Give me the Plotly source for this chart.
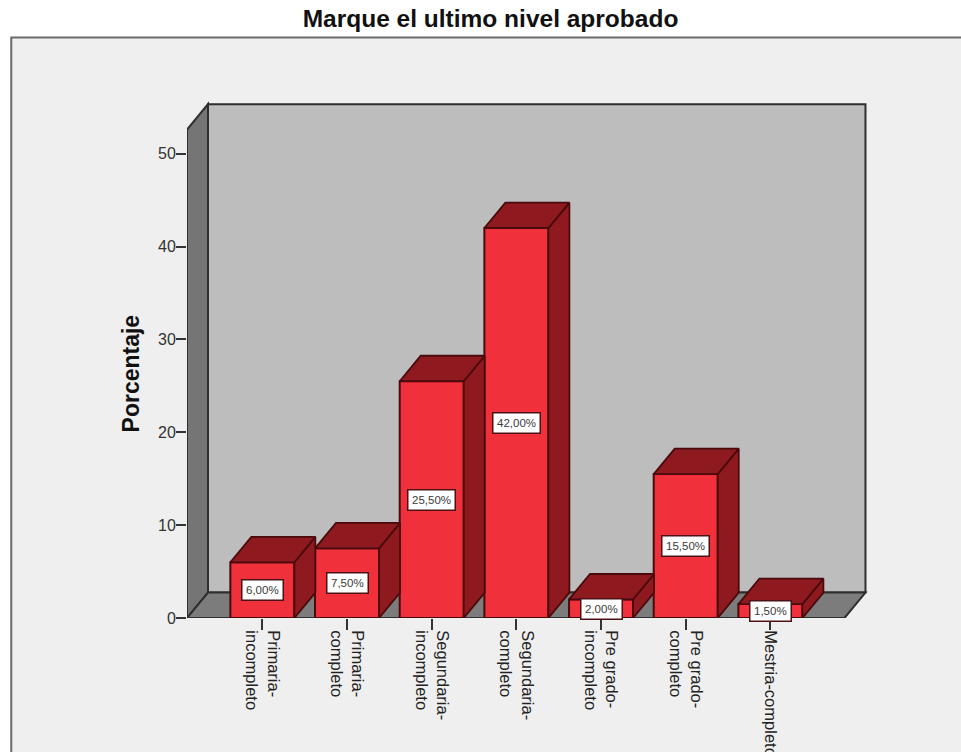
import plotly.graph_objects as go

categories = ["Primaria-<br>incompleto", "Primaria-<br>completo", "Segundaria-<br>incompleto",
              "Segundaria-<br>completo", "Pre grado-<br>incompleto", "Pre grado-<br>completo",
              "Mestria-completo"]
values = [6.0, 7.5, 25.5, 42.0, 2.0, 15.5, 1.5]
y_ticks = [0, 10, 20, 30, 40, 50]
title_text = "Marque el ultimo nivel aprobado"
y_title = "Porcentaje"

W, H = 961, 752
L, R, T, B = 187.3, 88.5, 98, 133.5
XMIN, XMAX, YMIN, YMAX = -0.89, 7.2, 0, 56
DX, DY = 0.248, 2.74       # oblique depth of the 3D box, in axis units
BW = 0.756
WALL_TOP = 52.6
FLOOR_R = 6.875
OUT = "#4a0a0c"
FRONT, TOP, SIDE = "#f0303a", "#8e1a20", "#8e1a20"

def px(xp): return (xp - L) / (W - L - R)
def py(yp): return 1 - (yp - T) / (H - T - B)

fig = go.Figure()
xs = list(range(len(values)))

fig.add_trace(go.Bar(x=xs, y=values, width=BW, marker=dict(color=FRONT, line=dict(color=OUT, width=2)),
                     showlegend=False, hoverinfo="x+y"))
for i, v in zip(xs, values):
    x0, x1 = i - BW / 2, i + BW / 2
    fig.add_trace(go.Scatter(x=[x1, x1 + DX, x1 + DX, x1, x1], y=[0, DY, v + DY, v, 0], mode="lines",
                             fill="toself", fillcolor=SIDE, line=dict(color=OUT, width=1.8),
                             showlegend=False, hoverinfo="skip"))
    fig.add_trace(go.Scatter(x=[x0, x0 + DX, x1 + DX, x1, x0], y=[v, v + DY, v + DY, v, v], mode="lines",
                             fill="toself", fillcolor=TOP, line=dict(color=OUT, width=1.8),
                             showlegend=False, hoverinfo="skip"))
    fig.add_annotation(x=i, y=v / 2, text=f"{v:.2f}".replace(".", ",") + "%", showarrow=False,
                       font=dict(family="Liberation Sans", size=11.5, color="#3a3a3a"),
                       bgcolor="white", bordercolor="#4a1214", borderwidth=1.5, borderpad=3.5)

wall = dict(color="#2e2e2e", width=2)
shapes = [
    # frame of the chart area, running off the right and bottom of the window
    dict(type="rect", xref="paper", yref="paper", x0=px(11.5), x1=px(1100), y0=py(900), y1=py(37.5),
         fillcolor="#efefef", line=dict(color="#6a6a6a", width=2), layer="below"),
    # back wall
    dict(type="path", xref="x", yref="y", layer="below", fillcolor="#bdbdbd", line=wall,
         path=f"M{XMIN + DX},{DY} L{XMIN + DX},{WALL_TOP + DY} L{FLOOR_R + DX},{WALL_TOP + DY} L{FLOOR_R + DX},{DY} Z"),
    # left wall
    dict(type="path", xref="x", yref="y", layer="below", fillcolor="#757575", line=wall,
         path=f"M{XMIN},0 L{XMIN},{WALL_TOP} L{XMIN + DX},{WALL_TOP + DY} L{XMIN + DX},{DY} Z"),
    # floor
    dict(type="path", xref="x", yref="y", layer="below", fillcolor="#7c7c7c", line=wall,
         path=f"M{XMIN},0 L{XMIN + DX},{DY} L{FLOOR_R + DX},{DY} L{FLOOR_R},0 Z"),
]

fig.add_annotation(xref="paper", yref="paper", x=px(131), y=py(374), xanchor="center", yanchor="middle",
                   text=f"<b>{y_title}</b>", textangle=-90,
                   showarrow=False, font=dict(family="Liberation Sans", size=23, color="#111111"))

fig.update_layout(
    width=W, height=H, margin=dict(l=L, r=R, t=T, b=B), autosize=False,
    paper_bgcolor="white", plot_bgcolor="rgba(0,0,0,0)", shapes=shapes, showlegend=False,
    title=dict(text=f"<b>{title_text}</b>", xref="container", yref="container", x=490.5 / W, y=1 - 18 / H,
               xanchor="center", yanchor="middle", font=dict(family="Liberation Sans", size=24.5, color="#111111")),
    xaxis=dict(range=[XMIN, XMAX], tickmode="array", tickvals=xs, ticktext=categories, tickangle=90,
               automargin=False, ticks="outside", ticklen=11, tickwidth=1.5, tickcolor="#333333", showgrid=False,
               ticklabelstandoff=-3, zeroline=False, showline=False,
               tickfont=dict(family="Liberation Sans", size=16.5, color="#222222")),
    yaxis=dict(range=[YMIN, YMAX], tickmode="array", tickvals=y_ticks, ticks="outside", ticklen=10, tickwidth=1.5,
               automargin=False, tickcolor="#333333", showgrid=False, zeroline=False, showline=False,
               ticklabelstandoff=-3, tickfont=dict(family="Liberation Sans", size=16, color="#333333")),
)

fig.write_html("out.html", config={"displayModeBar": False},
               post_script="document.body.style.margin='0';document.documentElement.style.overflow='hidden';")
